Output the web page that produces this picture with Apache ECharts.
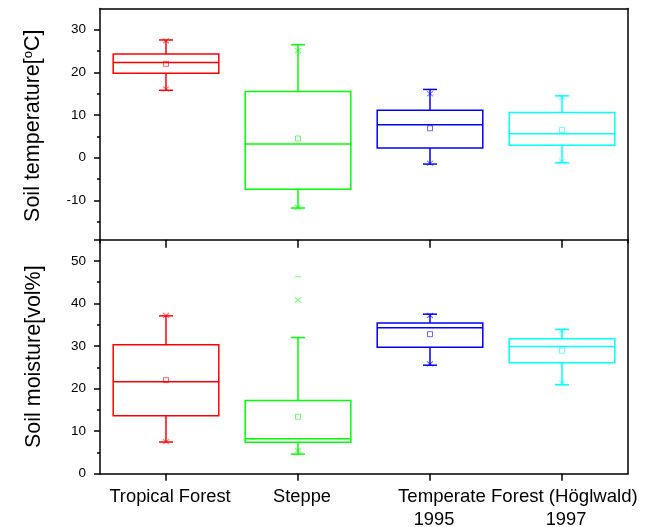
<html>
<head>
    <title></title>
    <meta charset="utf-8">
    <script src="https://cdn.jsdelivr.net/npm/echarts@6/dist/echarts.min.js" type="text/javascript"></script>
</head>
<body style="margin:0">
    <div id="main" style="width: 651px; height: 527px"></div>
    <script>
        // categories and colours
        var categories = ['Tropical Forest', 'Steppe', '1995', '1997'];
        var groupTitle = 'Temperate Forest (Höglwald)';
        var colors = ['#ff0000', '#00ff00', '#0000ff', '#00ffff'];

        // [lower whisker, q1, median, q3, upper whisker]
        var tempBox = [
            [15.8, 19.8, 22.3, 24.3, 27.6],
            [-11.8, -7.4, 3.2, 15.5, 26.5],
            [-1.5, 2.3, 7.7, 11.1, 16.0],
            [-1.2, 2.9, 5.6, 10.6, 14.5]
        ];
        var tempMean = [22.0, 4.5, 6.9, 6.5];
        var tempCross = [[16.1, 27.4], [-11.7, 25.1], [-1.3, 15.0], [-0.9, 14.1]];
        var tempTicks = [-10, 0, 10, 20, 30];

        var moistBox = [
            [7.45, 13.6, 21.6, 30.3, 37.1],
            [4.6, 7.4, 8.2, 17.2, 32.0],
            [25.5, 29.7, 34.3, 35.4, 37.5],
            [20.9, 26.1, 29.9, 31.7, 33.9]
        ];
        var moistMean = [22.0, 13.4, 32.8, 28.9];
        var moistCross = [[7.5, 37.2], [5.4, 40.8], [25.8, 37.2], [21.3, 33.6]];
        var moistDash = [[1, 46.3]];

        var font = 'Arial, "Liberation Sans", sans-serif';

        function boxData(arr) {
            return arr.map(function (b, i) { return [i].concat(b); });
        }
        function crossData(arr) {
            var out = [];
            arr.forEach(function (c, i) {
                c.forEach(function (v) { out.push({ value: [i, v], itemStyle: { borderColor: colors[i] } }); });
            });
            return out;
        }
        function meanData(arr) {
            return arr.map(function (v, i) { return { value: [i, v], itemStyle: { borderColor: colors[i] } }; });
        }

        function renderBox(params, api) {
            var i = api.value(0);
            var c = colors[i];
            var x = api.coord([i, 0])[0];
            var bw = api.size([1, 0])[0] * 0.8;
            var cw = 7;
            var lo = api.coord([i, api.value(1)])[1];
            var q1 = api.coord([i, api.value(2)])[1];
            var md = api.coord([i, api.value(3)])[1];
            var q3 = api.coord([i, api.value(4)])[1];
            var hi = api.coord([i, api.value(5)])[1];
            var st = { stroke: c, lineWidth: 1.5, fill: null };
            return {
                type: 'group',
                children: [
                    { type: 'rect', shape: { x: x - bw / 2, y: q3, width: bw, height: q1 - q3 }, style: { stroke: c, lineWidth: 1.5, fill: 'none' } },
                    { type: 'line', shape: { x1: x - bw / 2, y1: md, x2: x + bw / 2, y2: md }, style: st },
                    { type: 'line', shape: { x1: x, y1: q3, x2: x, y2: hi }, style: st },
                    { type: 'line', shape: { x1: x, y1: q1, x2: x, y2: lo }, style: st },
                    { type: 'line', shape: { x1: x - cw, y1: hi, x2: x + cw, y2: hi }, style: st },
                    { type: 'line', shape: { x1: x - cw, y1: lo, x2: x + cw, y2: lo }, style: st }
                ]
            };
        }

        var lineStyle = { color: '#000', width: 1.5 };
        var crossSymbol = 'path://M0,0L10,10M10,0L0,10';

        window.onload = function () {
            var myChart = echarts.init(document.getElementById('main'));
            var option = {
                animation: false,
                textStyle: { fontFamily: font },
                grid: [
                    { left: 100, right: 23, top: 8.4, height: 234.6, containLabel: false, outerBoundsMode: 'none' },
                    { left: 100, right: 23, top: 239.7, height: 234, containLabel: false, outerBoundsMode: 'none' }
                ],
                xAxis: [
                    { gridIndex: 0, type: 'category', data: categories, position: 'top', axisLine: { onZero: false, lineStyle: lineStyle }, axisTick: { show: false }, axisLabel: { show: false } },
                    {
                        gridIndex: 1, type: 'category', data: categories, position: 'bottom',
                        axisLine: { onZero: false, lineStyle: lineStyle },
                        axisTick: { show: true, alignWithLabel: true, interval: 0, length: 7, lineStyle: lineStyle },
                        axisLabel: {
                            interval: 0, color: '#000', fontSize: 18.3, fontFamily: font, margin: 12, lineHeight: 23,
                            padding: [0, 0, 0, 8],
                            formatter: function (v) { return /^\d/.test(v) ? '\n' + v : v; }
                        }
                    },
                    { gridIndex: 1, type: 'category', data: categories, position: 'top', axisLine: { onZero: false, lineStyle: lineStyle }, axisTick: { show: true, alignWithLabel: true, interval: 0, inside: true, length: 8, lineStyle: lineStyle }, axisLabel: { show: false } }
                ],
                yAxis: [
                    {
                        gridIndex: 0, type: 'value', min: -20, max: 35, interval: 10,
                        name: 'Soil temperature[{sup|o}C]', nameLocation: 'middle', nameGap: 55,
                        nameTextStyle: { color: '#000', fontSize: 21.5, fontFamily: font, rich: { sup: { fontSize: 13, verticalAlign: 'top', padding: [0, 0, 10, 0] } } },
                        axisLine: { show: true, lineStyle: lineStyle },
                        axisTick: { show: true, length: 6, customValues: tempTicks, lineStyle: lineStyle },
                        minorTick: { show: true, splitNumber: 2, length: 3, lineStyle: { color: '#000', width: 1.5 } },
                        axisLabel: { color: '#000', fontSize: 13.5, fontFamily: font, margin: 14, customValues: tempTicks },
                        splitLine: { show: false }
                    },
                    { gridIndex: 0, type: 'value', min: -20, max: 35, position: 'right', axisLine: { show: true, lineStyle: lineStyle }, axisTick: { show: false }, axisLabel: { show: false }, splitLine: { show: false } },
                    {
                        gridIndex: 1, type: 'value', min: 0, max: 55, interval: 10,
                        name: 'Soil moisture[vol%]', nameLocation: 'middle', nameGap: 55,
                        nameTextStyle: { color: '#000', fontSize: 21.5, fontFamily: font },
                        axisLine: { show: true, lineStyle: lineStyle },
                        axisTick: { show: true, length: 6, lineStyle: lineStyle },
                        minorTick: { show: true, splitNumber: 2, length: 3, lineStyle: { color: '#000', width: 1.5 } },
                        axisLabel: { color: '#000', fontSize: 13.5, fontFamily: font, margin: 14, showMaxLabel: false },
                        splitLine: { show: false }
                    },
                    { gridIndex: 1, type: 'value', min: 0, max: 55, position: 'right', axisLine: { show: true, lineStyle: lineStyle }, axisTick: { show: false }, axisLabel: { show: false }, splitLine: { show: false } }
                ],
                graphic: [
                    { type: 'text', left: 398, top: 487, style: { text: groupTitle, fontSize: 18.6, fontFamily: font, fill: '#000' } }
                ],
                series: [
                    { type: 'custom', xAxisIndex: 0, yAxisIndex: 0, renderItem: renderBox, data: boxData(tempBox), encode: { x: 0, y: [1, 2, 3, 4, 5] } },
                    { type: 'scatter', xAxisIndex: 0, yAxisIndex: 0, symbol: 'rect', symbolSize: 5, data: meanData(tempMean), itemStyle: { color: 'rgba(0,0,0,0)', borderWidth: 1, opacity: 0.6 } },
                    { type: 'scatter', xAxisIndex: 0, yAxisIndex: 0, symbol: crossSymbol, symbolSize: [6, 5], data: crossData(tempCross), itemStyle: { color: 'rgba(0,0,0,0)', borderWidth: 1, opacity: 0.6 } },
                    { type: 'custom', xAxisIndex: 1, yAxisIndex: 2, renderItem: renderBox, data: boxData(moistBox), encode: { x: 0, y: [1, 2, 3, 4, 5] } },
                    { type: 'scatter', xAxisIndex: 1, yAxisIndex: 2, symbol: 'rect', symbolSize: 5, data: meanData(moistMean), itemStyle: { color: 'rgba(0,0,0,0)', borderWidth: 1, opacity: 0.6 } },
                    { type: 'scatter', xAxisIndex: 1, yAxisIndex: 2, symbol: crossSymbol, symbolSize: [6, 5], data: crossData(moistCross), itemStyle: { color: 'rgba(0,0,0,0)', borderWidth: 1, opacity: 0.6 } },
                    { type: 'scatter', xAxisIndex: 1, yAxisIndex: 2, symbol: 'rect', symbolSize: [6, 1], data: moistDash, itemStyle: { color: colors[1], opacity: 0.6 } }
                ]
            };
            myChart.setOption(option);
        };
    </script>
</body>
</html>
